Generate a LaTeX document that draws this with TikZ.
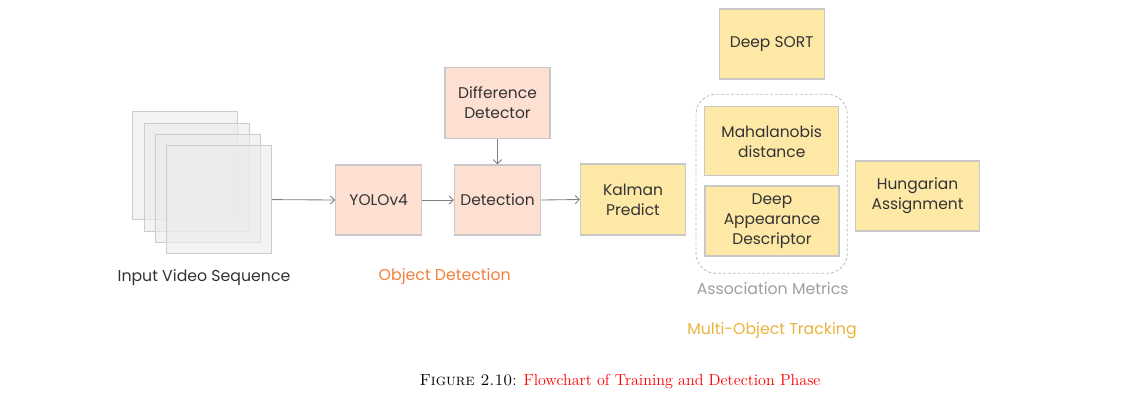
\documentclass[tikz,border=0pt]{standalone}
\usepackage{fontspec}
\newfontfamily\diagfont{Poppins}
\usetikzlibrary{arrows.meta}
\definecolor{peach}{HTML}{FDE0D2}
\definecolor{sand}{HTML}{FDE8A6}
\definecolor{edge}{HTML}{C8C8C8}
\definecolor{odorange}{HTML}{F47E3E}
\definecolor{motgold}{HTML}{E8B43E}
\definecolor{amgray}{HTML}{9E9E9E}
\tikzset{
  box/.style={draw=edge, line width=0.8pt, align=center, inner sep=2pt,
    font=\diagfont\fontsize{11}{14.3}\selectfont, text=black!80},
  odbox/.style={box, fill=peach},
  motbox/.style={box, fill=sand},
  frame/.style={draw=gray!40, fill=gray!16, fill opacity=0.6,
    minimum width=2.625cm, minimum height=2.7cm},
  flow/.style={draw=gray, line width=0.6pt, -{Straight Barb[length=3pt,width=6pt]}},
  tag/.style={font=\diagfont\fontsize{11.2}{13}\selectfont},
}
\begin{document}
\begin{tikzpicture}[x=0.025cm,y=-0.025cm]
\useasboundingbox (0,0) rectangle (1121,409);

% input frames
\foreach \i in {0,1,2,3}
  \node[frame] (f\i) at (185.2+11.3*\i,165.7+11.3*\i) {};
\node[tag, text=black!80] (inlabel) at (204,278) {Input Video Sequence};

% object detection
\node[odbox, minimum width=2.15cm, minimum height=1.75cm] (yolo) at (378.7,200) {YOLOv4};
\node[odbox, minimum width=2.15cm, minimum height=1.75cm] (detect) at (497.5,200) {Detection};
\node[odbox, minimum width=2.625cm, minimum height=1.775cm] (diff) at (497.5,103) {Difference\\Detector};
\node[tag, text=odorange] (odlabel) at (444.7,276.7) {Object Detection};

% multi-object tracking
\node[motbox, minimum width=2.625cm, minimum height=1.775cm] (kalman) at (633,199.5) {Kalman\\Predict};
\node[motbox, minimum width=2.625cm, minimum height=1.75cm] (sort) at (771.7,44) {Deep SORT};
\node[draw=amgray!70, line width=0.6pt, dash pattern=on 2pt off 1.5pt, rounded corners=0.5cm,
  minimum width=3.78cm, minimum height=4.475cm] (assoc) at (771.65,183.8) {};
\node[motbox, minimum width=3.35cm, minimum height=1.725cm] (maha) at (771.7,141.3) {Mahalanobis\\distance};
\node[motbox, minimum width=3.35cm, minimum height=1.75cm] (appear) at (772,221) {Deep\\Appearance\\Descriptor};
\node[motbox, minimum width=3.1cm, minimum height=1.75cm] (hung) at (917.5,196) {Hungarian\\Assignment};
\node[tag, text=amgray] (amlabel) at (772.7,288.3) {Association Metrics};
\node[tag, text=motgold] (motlabel) at (772,331) {Multi-Object Tracking};

% connectors
\draw[flow] (f3.east) -- (yolo.west);
\draw[flow] (yolo.east) -- (detect.west);
\draw[flow] (diff.south) -- (detect.north);
\draw[flow] (detect.east) -- (kalman.west);

% caption
\node[font=\fontsize{11.4}{14}\selectfont] (caption) at (620,381)
  {\textsc{Figure 2.10}: \textcolor{red}{Flowchart of Training and Detection Phase}};
\end{tikzpicture}
\end{document}
